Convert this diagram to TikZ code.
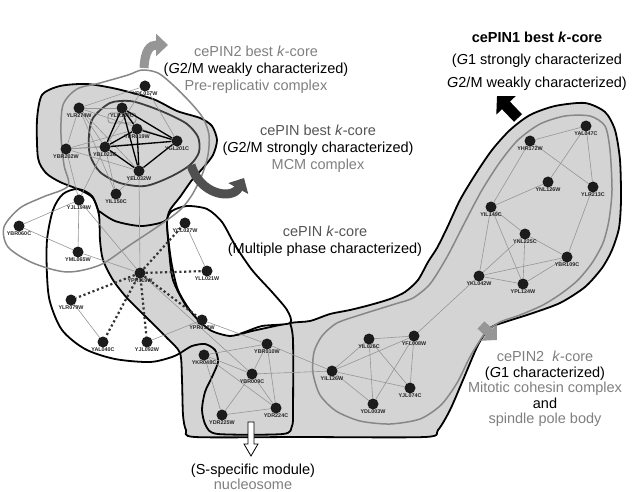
\documentclass[tikz,border=0pt]{standalone}
\usepackage{fontspec}
\setmainfont{Liberation Sans}
\usetikzlibrary{arrows.meta}
\definecolor{regfill}{RGB}{212,212,212}
\definecolor{tg}{RGB}{128,128,128}
\definecolor{td}{RGB}{85,85,85}
\definecolor{edgegrey}{RGB}{150,150,150}
\definecolor{contgrey}{RGB}{135,135,135}
\definecolor{contdark}{RGB}{60,60,60}
\definecolor{nodeblk}{RGB}{28,28,28}
\definecolor{arrgrey}{RGB}{150,150,150}
\definecolor{arrdark}{RGB}{80,80,80}
\pgfdeclarelayer{back}
\pgfdeclarelayer{mid}
\pgfsetlayers{back,mid,main}
\newcommand\gene[3]{\node[nd] (#1) at (#2) {};
  \node[lab, anchor=north] (#1l) at ([yshift=-5.5pt]#1.center) {#3};}
\begin{document}
\begin{tikzpicture}[x=1pt,y=-1pt,
  nd/.style={circle, fill=nodeblk, inner sep=0pt, minimum size=11pt},
  lab/.style={font=\fontsize{5.4}{6}\selectfont\bfseries, text=black!85, inner sep=0.4pt},
  ge/.style={draw=edgegrey, line width=0.6pt},
  be/.style={draw=black, line width=1.3pt},
  de/.style={draw=black!80, line width=2.2pt, dash pattern=on 2.2pt off 2.6pt},
  outl/.style={draw=black, line width=1.8pt},
  txt/.style={font=\fontsize{14.5}{17}\selectfont, align=center, inner sep=0pt}]
\useasboundingbox (0,0) rectangle (635,492);

% ---------- nodes ----------
\gene{ydl017w}{145,86}{YDL017W}
\gene{ylr274w}{79,108}{YLR274W}
\gene{ylr103c}{122,108}{YLR103C}
\gene{ypr019w}{137,129}{YPR019W}
\gene{ybr202w}{66,149}{YBR202W}
\gene{ybl023c}{105,147}{YBL023C}
\gene{ygl201c}{177,141}{YGL201C}
\gene{yel032w}{139,171}{YEL032W}
\gene{yil150c}{116,194}{YIL150C}
\gene{yjl194w}{79,200}{YJL194W}
\gene{ybr060c}{19,226}{YBR060C}
\gene{yml065w}{78,252}{YML065W}
\gene{ycl027w}{185,223}{YCL027W}
\gene{yll021w}{207,271}{YLL021W}
\gene{ypr119w}{140,273}{YPR119W}
\gene{ylr079w}{71,300}{YLR079W}
\gene{ypr018w}{202,320}{YPR018W}
\gene{yal040c}{103,342}{YAL040C}
\gene{yjl092w}{147,342}{YJL092W}
\gene{ykr048c}{204,355}{YKR048C}
\gene{ybr010w}{267,344}{YBR010W}
\gene{ybr009c}{252,374}{YBR009C}
\gene{ydr224c}{276,408}{YDR224C}
\gene{ydr225w}{222,415}{YDR225W}
\gene{yil126w}{332,371}{YIL126W}
\gene{yil026c}{369,339}{YIL026C}
\gene{yfl008w}{414,336}{YFL008W}
\gene{yjl074c}{410,388}{YJL074C}
\gene{ydl003w}{373,404}{YDL003W}
\gene{ykl042w}{479,276}{YKL042W}
\gene{ypl124w}{523,284}{YPL124W}
\gene{ybr109c}{567,257}{YBR109C}
\gene{ynl225c}{525,234}{YNL225C}
\gene{yil149c}{491,207}{YIL149C}
\gene{yhr172w}{530,141}{YHR172W}
\gene{ynl126w}{548,182}{YNL126W}
\gene{ylr213c}{593,187}{YLR213C}
\gene{yal047c}{586,126}{YAL047C}

% ---------- regions and contours ----------
\begin{pgfonlayer}{back}
\fill[white] (0,0) rectangle (635,492);
% cePIN k-core region
\draw[outl, fill=regfill] plot[smooth cycle, tension=0.45] coordinates {
 (37,120) (42,95) (60,86) (87,84) (117,89) (153,99) (177,111) (200,118) (212,126)
 (217,140) (213,155) (203,168) (192,180) (180,197) (170,210) (167,222) (169,250)
 (173,280) (187,307) (207,327) (233,335) (252,331) (290,323) (310,321) (330,314)
 (350,310) (370,305) (390,299) (405,292) (418,280) (428,262) (437,248) (447,228)
 (460,200) (475,175) (492,150) (510,130) (530,115) (555,106) (585,103) (605,112)
 (615,130) (620,160) (621,200) (619,228) (612,250) (602,268) (585,287) (560,303)
 (530,314) (505,322) (490,328) (478,345) (463,380) (450,410) (438,430) (425,437)
 (300,437) (195,437) (186,430) (183,415) (182,380) (180,353) (167,338) (147,318)
 (127,298) (113,280) (103,260) (100,240) (99,215) (93,198) (80,190) (60,182)
 (46,173) (38,158)};
% blob bottom line across the band
\draw[outl] plot[smooth, tension=0.5] coordinates {(99,211) (115,221) (140,226) (160,223) (168,219)};
% white region right of band
\draw[outl, fill=white] plot[smooth cycle, tension=0.45] coordinates {
 (167,222) (172,211) (187,206) (207,209) (222,222) (235,245) (252,270) (272,292)
 (287,310) (290,323) (262,326) (245,332) (230,336) (210,330) (192,313) (178,290) (171,260)};
% white region left of band
\draw[outl] plot[smooth, tension=0.5] coordinates {
 (99,213) (92,196) (78,189) (63,194) (53,210) (47,240) (47,275) (50,302) (62,330)
 (85,349) (115,359) (150,362) (172,357) (182,352)};
% S-specific module
\draw[outl] plot[smooth, tension=0.45] coordinates {
 (182,352) (192,346) (205,344) (215,350) (218,362) (212,377) (205,392) (202,410)
 (206,426) (218,434) (283,434) (292,426) (293,410) (293,340) (290,323)};
% pre-replicative complex contour
\draw[draw=contgrey, line width=1.5pt] plot[smooth cycle, tension=0.5] coordinates {
 (63,105) (77,89) (100,83) (128,75) (142,70) (158,73) (173,85) (190,102) (203,118)
 (209,135) (208,155) (202,175) (192,195) (180,210) (160,225) (130,245) (100,265)
 (67,272) (33,263) (8,247) (4,227) (20,208) (43,197) (68,186) (64,165) (61,135)};
% MCM contour
\draw[draw=contdark, line width=1.8pt] plot[smooth cycle, tension=0.5] coordinates {
 (93,118) (110,103) (130,101) (148,106) (168,114) (187,124) (198,137) (199,152)
 (190,165) (170,177) (145,186) (120,183) (100,172) (90,155) (89,135)};
\draw[draw=contgrey, line width=0.8pt, rounded corners=3pt] (108,113) rectangle (136,123);
% cePIN2 k-core contour
\draw[draw=contgrey, line width=1.5pt] plot[smooth cycle, tension=0.45] coordinates {
 (337,323) (363,314) (395,304) (413,298) (430,284) (447,257) (465,222) (482,190)
 (500,162) (518,140) (540,124) (565,116) (590,116) (605,126) (610,150) (612,190)
 (609,220) (603,243) (592,263) (578,280) (562,293) (543,305) (520,315) (500,322)
 (486,332) (471,355) (457,383) (441,405) (420,419) (390,424) (360,421) (336,411)
 (320,395) (313,373) (314,352) (322,336)};
\end{pgfonlayer}

% ---------- edges ----------
\begin{pgfonlayer}{mid}
\foreach \a/\b in {ydl017w/ylr274w, ydl017w/ygl201c, ydl017w/ybl023c,
 ylr274w/ylr103c, ylr274w/ybr202w, ylr274w/ybl023c, ylr274w/ygl201c, ylr274w/yel032w,
 ybr202w/ybl023c, ybr202w/ypr019w, ybr202w/yel032w, ybr202w/ygl201c, ybr202w/yjl194w,
 yil150c/ybl023c, yil150c/yel032w, yil150c/ylr274w,
 yjl194w/ybl023c, yjl194w/ybr060c, yjl194w/yml065w, ybr060c/yml065w, yjl194w/ypr119w,
 yml065w/ypr119w, yel032w/ypr119w,
 ylr079w/yal040c, ycl027w/yll021w, yjl092w/ypr018w, ypr119w/ybr009c, ypr018w/ybr010w,
 ykr048c/ybr010w, ykr048c/ybr009c, ykr048c/ydr225w, ybr010w/ybr009c, ybr010w/ydr224c,
 ybr009c/ydr224c, ybr009c/ydr225w, ydr225w/ydr224c, ybr009c/yil126w, ybr010w/yil126w,
 ykr048c/ydr224c,
 yil126w/yil026c, yil126w/yfl008w, yil126w/yjl074c, yil126w/ydl003w, yil026c/yfl008w,
 yil026c/yjl074c, yil026c/ydl003w, yfl008w/ydl003w, yfl008w/yjl074c, yfl008w/ykl042w,
 yhr172w/yal047c, yhr172w/ylr213c, yal047c/ynl126w, yal047c/ylr213c, ynl126w/yil149c,
 yhr172w/yil149c, yil149c/ynl225c, yil149c/ykl042w, yil149c/ypl124w, ynl225c/ykl042w,
 ynl225c/ypl124w, ynl225c/ybr109c, ykl042w/ybr109c, ykl042w/ypl124w, ypl124w/ybr109c,
 ylr213c/ybr109c}
 \draw[ge] (\a) -- (\b);
\foreach \a/\b in {ylr103c/ybl023c, ylr103c/yel032w, ylr103c/ygl201c, ylr103c/ypr019w,
 ypr019w/ybl023c, ypr019w/ygl201c, ypr019w/yel032w, ybl023c/ygl201c, ybl023c/yel032w,
 ygl201c/yel032w}
 \draw[be] (\a) -- (\b);
\foreach \b in {ycl027w, yll021w, ypr018w, yjl092w, yal040c, ylr079w}
 \draw[de] (ypr119w) -- (\b);
\end{pgfonlayer}

% ---------- arrows ----------
\coordinate (a1s) at (144,68);
\coordinate (a1e) at (168,45);
\draw[draw=arrgrey, line width=9pt, -{Triangle[length=12pt,width=22pt]}]
  (a1s) .. controls (145,50) and (150,45) .. (a1e);
\coordinate (a2s) at (191,165);
\coordinate (a2e) at (244,178);
\draw[draw=arrdark, line width=9pt, -{Triangle[length=12pt,width=22pt]}]
  (a2s) .. controls (200,195) and (232,200) .. (a2e);
\coordinate (a3s) at (518,118);
\coordinate (a3e) at (497,96);
\draw[draw=black, line width=11pt, -{Triangle[length=13pt,width=26pt]}] (a3s) -- (a3e);
\coordinate (a4s) at (481,325);
\coordinate (a4e) at (497,340);
\draw[draw=arrgrey, line width=10pt, -{Triangle[length=11pt,width=22pt]}] (a4s) -- (a4e);
\draw[fill=white, draw=black, line width=0.8pt]
  (248,422) -- (254,422) -- (254,444) -- (258,444) -- (251,456) -- (244,444) -- (248,444) -- cycle;

% ---------- texts ----------
\node[txt] (t1) at (256,70) {\textcolor{tg}{cePIN2 best \textit{k}-core}\\(\textit{G}2/M weakly characterized)\\\textcolor{tg}{Pre-replicativ complex}};
\node[txt] (t2) at (318,149) {\textcolor{td}{cePIN best \textit{k}-core}\\(\textit{G}2/M strongly characterized)\\\textcolor{tg}{MCM complex}};
\node[txt] (t3) at (325,241.5) {\textcolor{td}{cePIN \textit{k}-core}\\(Multiple phase characterized)};
\node[txt, font=\fontsize{14.5}{22.5}\selectfont] (t4) at (537,61) {\textbf{cePIN1 best \textit{k}-core}\\(\textit{G}1 strongly characterized\\\textit{G}2/M weakly characterized)};
\node[txt, font=\fontsize{14.5}{15.6}\selectfont] (t5) at (545,389) {\textcolor{tg}{cePIN2~ \textit{k}-core}\\(\textit{G}1 characterized)\\\textcolor{tg}{Mitotic cohesin complex}\\and\\\textcolor{tg}{spindle pole body}};
\node[txt, font=\fontsize{14.5}{15}\selectfont] (t6) at (253,477) {(S-specific module)\\\textcolor{tg}{nucleosome}};
\end{tikzpicture}
\end{document}
